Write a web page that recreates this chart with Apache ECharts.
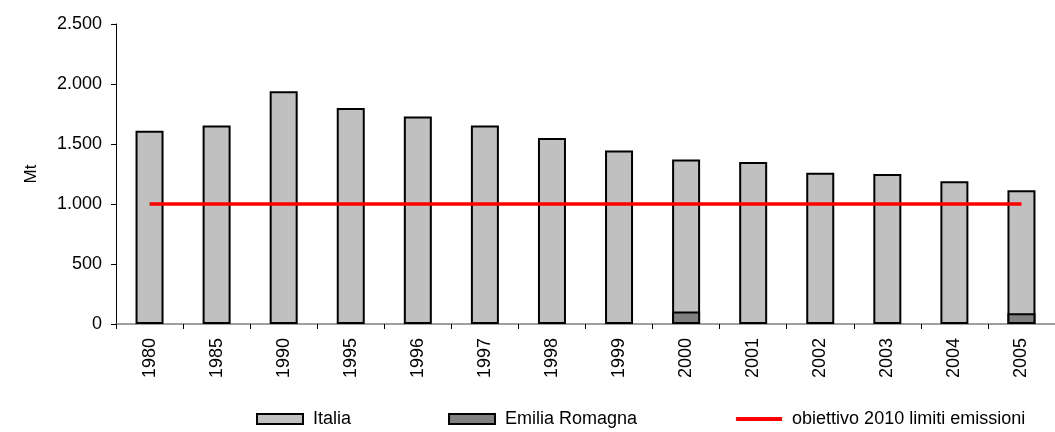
<!DOCTYPE html>
<html>
<head>
<meta charset="utf-8">
<script src="https://cdn.jsdelivr.net/npm/echarts@6/dist/echarts.min.js"></script>
<style>
  html, body { margin: 0; padding: 0; background: #fff; }
  #main { width: 1055px; height: 432px; }
</style>
</head>
<body>
<div id="main"></div>
<script>
var myChart = echarts.init(document.getElementById('main'));

var years = ['1980', '1985', '1990', '1995', '1996', '1997', '1998', '1999', '2000', '2001', '2002', '2003', '2004', '2005'];
var italia = [1610, 1655, 1940, 1800, 1730, 1655, 1550, 1445, 1370, 1350, 1260, 1250, 1190, 1115];
var emilia = [null, null, null, null, null, null, null, null, 105, null, null, null, null, 90];
var obiettivo = [1000, 1000, 1000, 1000, 1000, 1000, 1000, 1000, 1000, 1000, 1000, 1000, 1000, 1000];

var font = 'Liberation Sans, Arial, sans-serif';

// punto come separatore delle migliaia
function fmt(v) {
    return String(v).replace(/\B(?=(\d{3})+(?!\d))/g, '.');
}

option = {
    backgroundColor: '#ffffff',
    animation: false,
    grid: {
        left: 116,
        right: -7,
        top: 24,
        bottom: 108
    },
    legend: {
        left: 251,
        top: 405,
        itemWidth: 46,
        itemHeight: 10,
        itemGap: 97,
        textStyle: { color: '#000', fontFamily: font, fontSize: 18, padding: [0, 0, 0, 5] },
        data: [
            { name: 'Italia', icon: 'rect' },
            { name: 'Emilia Romagna', icon: 'rect' },
            { name: 'obiettivo 2010 limiti emissioni', itemStyle: { opacity: 0 }, lineStyle: { width: 4 } }
        ]
    },
    xAxis: {
        type: 'category',
        data: years,
        axisLine: { lineStyle: { color: '#808080', width: 1.5 } },
        axisTick: { show: true, length: 5, lineStyle: { color: '#000' } },
        axisLabel: {
            rotate: 90,
            color: '#000',
            fontFamily: font,
            fontSize: 18,
            margin: 14
        }
    },
    yAxis: {
        type: 'value',
        min: 0,
        max: 2500,
        interval: 500,
        name: 'Mt',
        nameLocation: 'middle',
        nameRotate: 90,
        nameGap: 76,
        nameTextStyle: { color: '#000', fontFamily: font, fontSize: 17 },
        splitLine: { show: false },
        axisLine: { show: true, lineStyle: { color: '#000', width: 1 } },
        axisTick: { show: true, length: 5, lineStyle: { color: '#000' } },
        axisLabel: {
            color: '#000',
            fontFamily: font,
            fontSize: 18,
            margin: 14,
            formatter: fmt
        }
    },
    series: [
        {
            name: 'Italia',
            type: 'bar',
            barWidth: 28,
            barGap: '-100%',
            itemStyle: { color: '#c0c0c0', borderColor: '#000', borderWidth: 2 },
            data: italia
        },
        {
            name: 'Emilia Romagna',
            type: 'bar',
            barWidth: 28,
            barGap: '-100%',
            itemStyle: { color: '#808080', borderColor: '#000', borderWidth: 2 },
            data: emilia
        },
        {
            name: 'obiettivo 2010 limiti emissioni',
            type: 'line',
            symbol: 'none',
            lineStyle: { color: '#ff0000', width: 3.5 },
            itemStyle: { color: '#ff0000' },
            data: obiettivo,
            z: 5
        }
    ]
};

myChart.setOption(option);
</script>
</body>
</html>
